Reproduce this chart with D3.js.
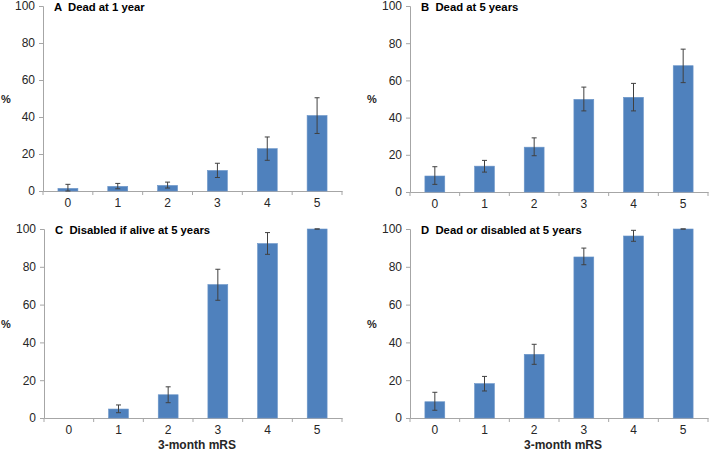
<!DOCTYPE html>
<html><head><meta charset="utf-8">
<script src="https://cdn.jsdelivr.net/npm/d3@7"></script>
<style>
body{margin:0;background:#fff;}
text{font-family:"Liberation Sans",Arial,sans-serif;}
</style></head>
<body>
<svg id="c" width="709" height="452"></svg>
<script>
const categories = ["0","1","2","3","4","5"];
const yTicks = [0,20,40,60,80,100];
const titles = ["A  Dead at 1 year","B  Dead at 5 years","C  Disabled if alive at 5 years","D  Dead or disabled at 5 years"];
const xAxisTitle = "3-month mRS";
const yAxisTitle = "%";

const valuesA = [1.4, 2.5, 3.0, 11.1, 22.9, 40.8];
const lowA    = [0.0, 1.2, 1.6, 7.3, 16.6, 31.1];
const highA   = [3.6, 4.1, 4.8, 15.0, 29.2, 50.4];

const valuesB = [8.6, 13.9, 24.1, 49.8, 50.9, 67.9];
const lowB    = [4.1, 10.7, 19.5, 43.6, 43.6, 58.8];
const highB   = [13.6, 17.0, 29.1, 56.4, 58.4, 76.8];

const valuesC = [0, 4.75, 12.3, 70.6, 92.3, 100];
const lowC    = [null, 2.8, 8.1, 62.3, 86.6, 100];
const highC   = [null, 6.9, 16.5, 78.7, 98.1, 100];

const valuesD = [8.6, 18.2, 33.7, 85.2, 96.3, 100];
const lowD    = [4.1, 14.3, 28.4, 81.1, 93.5, 100];
const highD   = [13.6, 22.0, 39.0, 89.9, 99.3, 100];

const panels = [
  {title:titles[0], v:valuesA, lo:lowA, hi:highA, x0:43, x1:342, yTop:6, yBot:191, xt:false, py:100, px:6},
  {title:titles[1], v:valuesB, lo:lowB, hi:highB, x0:410, x1:708, yTop:6, yBot:192, xt:false, py:100, px:372},
  {title:titles[2], v:valuesC, lo:lowC, hi:highC, x0:44, x1:342, yTop:229, yBot:418, xt:true, py:325, px:6},
  {title:titles[3], v:valuesD, lo:lowD, hi:highD, x0:410, x1:708, yTop:229, yBot:418, xt:true, py:325, px:372}
];

const svg = d3.select("#c");
const axisColor = "#a6a6a6";
const barColor = "#4f81bd";
const fontFam = "'Liberation Sans',Arial,sans-serif";

panels.forEach(p => {
  const g = svg.append("g");
  const x = d3.scaleBand().domain(categories).range([p.x0, p.x1]).paddingInner(0.6).paddingOuter(0.3);
  const y = d3.scaleLinear().domain([0,100]).range([p.yBot, p.yTop]);

  // y axis
  const ya = g.append("g").attr("transform", `translate(${p.x0},0)`)
    .call(d3.axisLeft(y).tickValues(yTicks).tickSize(4).tickPadding(4));
  ya.select(".domain").attr("stroke", axisColor);
  ya.selectAll(".tick line").attr("stroke", axisColor);
  ya.selectAll(".tick text").attr("fill", "#262626").style("font-size","12px")
    .style("font-family",fontFam);

  // x axis
  const xa = g.append("g").attr("transform", `translate(0,${p.yBot})`)
    .call(d3.axisBottom(x).tickSize(0).tickPadding(7));
  xa.select(".domain").attr("stroke", axisColor);
  xa.selectAll(".tick text").attr("fill", "#262626").style("font-size","12px")
    .style("font-family",fontFam);
  // boundary ticks between categories
  const bounds = d3.range(categories.length + 1).map(i => p.x0 + i * (p.x1 - p.x0) / categories.length);
  g.selectAll("line.bt").data(bounds).enter().append("line")
    .attr("x1", d => d).attr("x2", d => d)
    .attr("y1", p.yBot).attr("y2", p.yBot + 4)
    .attr("stroke", axisColor);

  // bars
  g.selectAll("rect.bar").data(p.v).enter().append("rect")
    .attr("x", (d,i) => x(categories[i]))
    .attr("width", x.bandwidth())
    .attr("y", d => y(d))
    .attr("height", d => y(0) - y(d))
    .attr("fill", barColor)
    .attr("stroke", d => d > 0 ? "#6b95c8" : "none").attr("stroke-width", 0.6);

  // error bars
  const eb = p.v.map((d,i) => ({i, lo:p.lo[i], hi:p.hi[i]})).filter(d => d.lo !== null);
  const cx = d => x(categories[d.i]) + x.bandwidth()/2;
  g.selectAll("line.ev").data(eb).enter().append("line")
    .attr("x1", cx).attr("x2", cx)
    .attr("y1", d => y(d.lo)).attr("y2", d => y(d.hi))
    .attr("stroke", "#404040").attr("stroke-width", 1);
  ["lo","hi"].forEach(k => {
    g.selectAll("line.c"+k).data(eb).enter().append("line")
      .attr("x1", d => cx(d) - 2.5).attr("x2", d => cx(d) + 2.5)
      .attr("y1", d => y(d[k])).attr("y2", d => y(d[k]))
      .attr("stroke", "#404040").attr("stroke-width", 1);
  });

  // title
  g.append("text").attr("x", p.x0 + 11).attr("y", p.yTop + 2)
    .attr("dominant-baseline","middle")
    .style("font-size","11.3px").style("font-weight","bold").attr("fill","#000")
    .style("white-space","pre")
    .text(p.title);

  // y title
  g.append("text").attr("x", p.px).attr("y", p.py)
    .attr("text-anchor","middle").attr("dominant-baseline","middle")
    .style("font-size","11px").style("font-weight","bold").attr("fill","#262626")
    .text(yAxisTitle);

  if (p.xt) {
    g.append("text").attr("x", (p.x0 + p.x1)/2 + 4).attr("y", 446)
      .attr("text-anchor","middle").attr("dominant-baseline","middle")
      .style("font-size","12px").style("font-weight","bold").attr("fill","#262626")
      .text(xAxisTitle);
  }
});
</script>
</body></html>
